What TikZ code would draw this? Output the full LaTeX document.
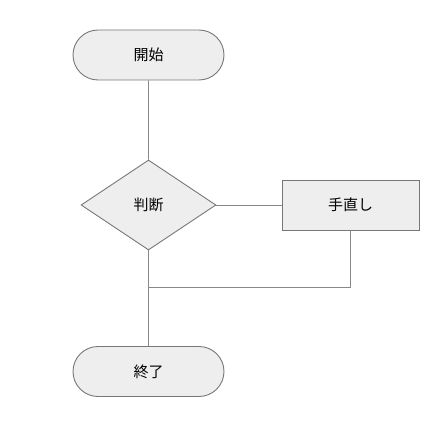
\documentclass[tikz,border=0pt]{standalone}
\usepackage{fontspec}
\newfontfamily\cjk{Noto Sans CJK JP}
\usetikzlibrary{shapes.geometric,shapes.misc}
\definecolor{boxfill}{HTML}{EEEEEE}
\definecolor{boxline}{HTML}{777777}
\definecolor{wire}{HTML}{888888}
\tikzset{
  x=1pt,y=-1pt,
  base/.style={draw=boxline,fill=boxfill,line width=0.9pt,font=\cjk\fontsize{15}{18}\selectfont,inner sep=0pt},
  term/.style={base,rounded rectangle,minimum width=151pt,minimum height=50pt},
  decision/.style={base,diamond,aspect=1.5,minimum width=135pt,minimum height=90pt},
  proc/.style={base,rectangle,minimum width=137pt,minimum height=50pt},
  wireline/.style={draw=wire,line width=0.9pt}
}
\begin{document}
\begin{tikzpicture}
\useasboundingbox (0,0) rectangle (442,441);
\node[term] (start) at (148.5,55) {開始};
\node[decision] (judge) at (148.5,205) {判断};
\node[proc] (fix) at (350.5,205) {手直し};
\node[term] (end) at (148.5,371.5) {終了};
\coordinate (join) at (148.5,287);
\draw[wireline] (start) -- (judge);
\draw[wireline] (judge.east) -- (fix.west);
\draw[wireline] (judge.south) -- (end.north);
\draw[wireline] (fix.south) |- (join);
\end{tikzpicture}
\end{document}
